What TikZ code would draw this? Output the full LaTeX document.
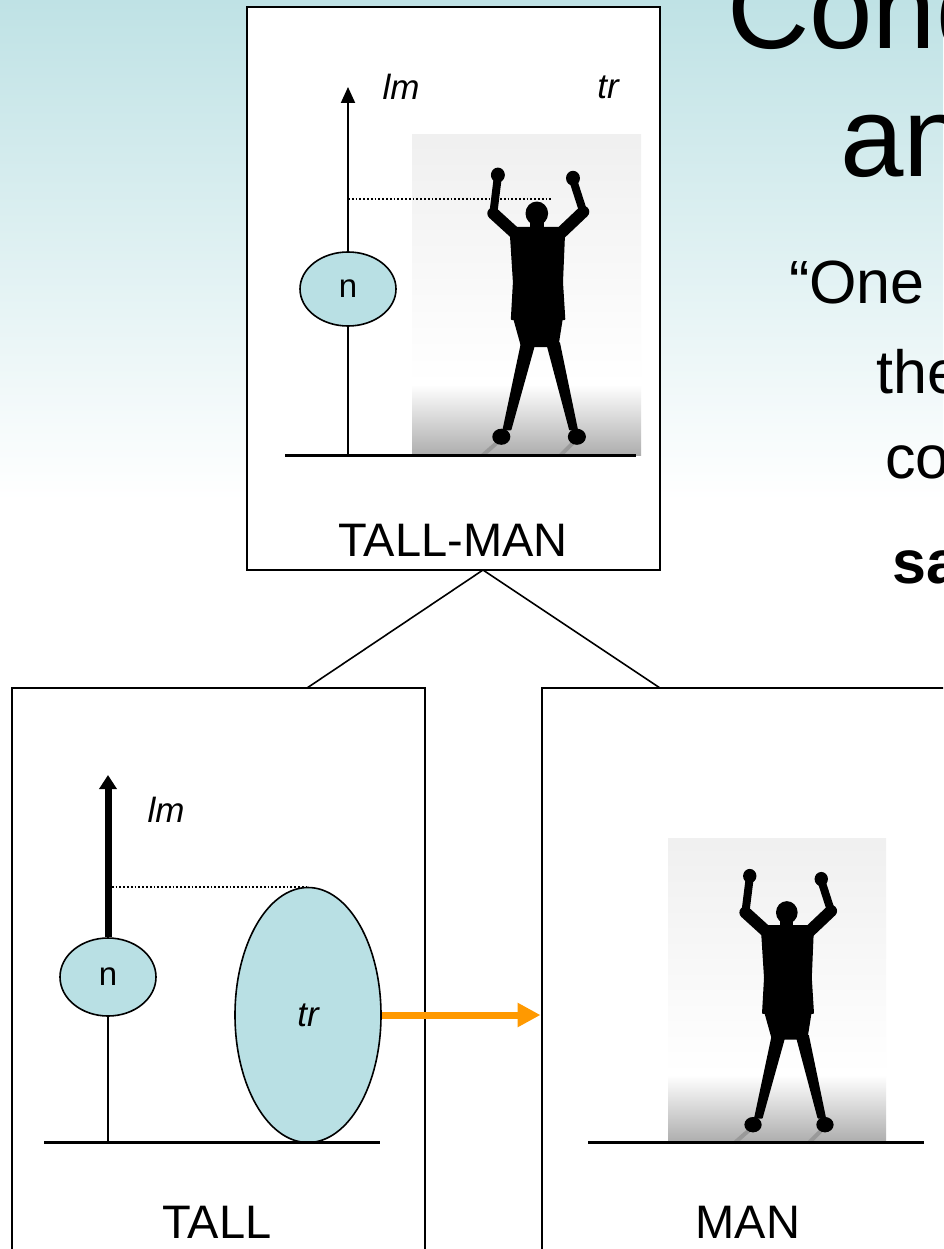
\documentclass[tikz,border=0pt]{standalone}
\usepackage{fontspec}
\setmainfont{Liberation Sans}
\usetikzlibrary{arrows.meta,shapes.geometric}

\definecolor{slideteal}{RGB}{191,226,229}
\definecolor{blobteal}{RGB}{185,224,228}
\definecolor{moveorange}{RGB}{255,153,0}

\tikzset{
  panel/.style={draw, line width=2pt, fill=white, inner sep=0pt,
    minimum width=413pt, minimum height=563pt},
  blob/.style={ellipse, draw, line width=1.6pt, fill=blobteal, inner sep=0pt,
    font=\fontsize{33}{33}\selectfont},
  paneltext/.style={inner sep=0pt, font=\fontsize{47}{47}\selectfont},
  roletext/.style={inner sep=0pt, font=\fontsize{35}{35}\selectfont\itshape},
  titletext/.style={inner sep=0pt, anchor=base west, font=\fontsize{114}{114}\selectfont},
  quotetext/.style={inner sep=0pt, anchor=base west, font=\fontsize{61}{61}\selectfont},
  link/.style={line width=1.6pt},
  ground/.style={line width=3pt},
  guide/.style={dotted, line width=1.8pt},
  lmaxis/.style={line width=2pt, -{Triangle[length=16pt,width=14pt]}},
  movearrow/.style={draw=moveorange, line width=7pt,
    -{Triangle[length=23pt,width=23pt]}},
  limb/.style={black, line cap=round},
  pics/manphoto/.style={code={
    % photo backdrop and floor
    \shade[top color=black!6, bottom color=white] (0,0) rectangle (1,0.78);%
    \shade[top color=white, bottom color=black!32] (0,0.78) rectangle (1,1);%
    % soft shadows of the feet
    \draw[black!40, line width=4pt, line cap=round] (0.39,0.95) -- (0.31,1);%
    \draw[black!40, line width=4pt, line cap=round] (0.72,0.95) -- (0.65,1);%
    % blurred figure with raised arms
    \begin{scope}[fill=black, draw=black, line width=2pt, line join=round]
      \filldraw (0.545,0.245) ellipse [x radius=0.045, y radius=0.034];%
      \filldraw (0.52,0.26) rectangle (0.57,0.30);%
      \filldraw (0.43,0.29) -- (0.665,0.29) -- (0.655,0.46) -- (0.665,0.575)
        -- (0.436,0.575) -- (0.445,0.46) -- cycle;%
      \filldraw (0.445,0.57) -- (0.655,0.57) -- (0.635,0.66) -- (0.48,0.66) -- cycle;%
      \filldraw (0.48,0.65) -- (0.535,0.65) -- (0.43,0.92) -- (0.40,0.92) -- cycle;%
      \filldraw (0.59,0.65) -- (0.642,0.65) -- (0.72,0.92) -- (0.69,0.92) -- cycle;%
      \filldraw (0.39,0.943) ellipse [x radius=0.035, y radius=0.022];%
      \filldraw (0.72,0.943) ellipse [x radius=0.035, y radius=0.022];%
      \draw[limb, line width=12pt] (0.47,0.32) -- (0.355,0.245);%
      \draw[limb, line width=8pt] (0.355,0.245) -- (0.375,0.13);%
      \draw[limb, line width=12pt] (0.63,0.32) -- (0.748,0.24);%
      \draw[limb, line width=8pt] (0.748,0.24) -- (0.703,0.14);%
      \fill (0.47,0.32) -- (0.355,0.245) -- (0.43,0.29) -- cycle;%
      \fill (0.63,0.32) -- (0.748,0.24) -- (0.665,0.29) -- cycle;%
      \filldraw (0.375,0.125) ellipse [x radius=0.026, y radius=0.02];%
      \filldraw (0.703,0.135) ellipse [x radius=0.026, y radius=0.02];%
    \end{scope}
  }}
}

\begin{document}
\begin{tikzpicture}[x=1pt, y=-1pt]
            \useasboundingbox (0,0) rectangle (943,1249);%
            \clip (0,0) rectangle (943,1249);%

            % Slide background
            \shade [top color=slideteal, bottom color=white] (0,0) rectangle (943,500);%

            % Title and quote, cut off by the slide edge
            \node [titletext] (titleA) at (727,49) {Cond};%
            \node [titletext] (titleB) at (840,177) {an};%
            \node [quotetext] (quoteA) at (789,303) {“One};%
            \node [quotetext] (quoteB) at (876,393) {the};%
            \node [quotetext] (quoteC) at (885,478) {co};%
            \node [quotetext] (quoteD) at (892,583) {\bfseries sa};%

            % Panels
            \node [panel] (tallman) at (453.5,288.5) {};%
            \node [panel] (tall) at (218,969.5) {};%
            \node [panel] (man) at (748,969.5) {};%

            % Linking TALL-MAN to its parts
            \coordinate (apex) at (483,570);%
            \coordinate (tallhook) at (307,688);%
            \coordinate (manhook) at (660,688);%
            \draw [link] (apex) -- (tallhook);%
            \draw [link] (apex) -- (manhook);%

            % Panel TALL-MAN
            \pic [xscale=229, yscale=320] at (412,135) {manphoto};%
            \coordinate (lmfootA) at (348,455);%
            \coordinate (lmtipA) at (348,87);%
            \coordinate (headA) at (553,199);%
            \draw [lmaxis] (lmfootA) -- (lmtipA);%
            \draw [guide] (lmtipA |- headA) -- (headA);%
            \node [blob, minimum width=96pt, minimum height=74pt] (nA) at (348,289) {n};%
            \node [roletext] (lmA) at (401,87) {lm};%
            \node [roletext] (trA) at (608,87) {tr};%
            \coordinate (groundAl) at (285,455);%
            \coordinate (groundAr) at (636,455);%
            \draw [ground] (groundAl) -- (groundAr);%
            \node [paneltext] (tallmanname) at (453,540) {TALL-MAN};%

            % Panel TALL
            \node [blob, minimum width=96pt, minimum height=78pt] (nB) at (108,977) {n};%
            \node [blob, minimum width=146pt, minimum height=255pt,
              font=\fontsize{35}{35}\selectfont\itshape] (trB) at (308,1015) {tr};%
            \coordinate (lmtipB) at (108,775);%
            \coordinate (groundBl) at (44,1142);%
            \coordinate (groundBr) at (380,1142);%
            \draw [guide] (nB.north |- trB.north) -- (trB.north);%
            \draw [line width=7pt, -{Triangle[length=14pt,width=17pt]}] (nB.north) -- (lmtipB);%
            \draw [line width=2pt] (nB.south) -- (nB.south |- groundBl);%
            \draw [ground] (groundBl) -- (groundBr);%
            \node [roletext] (lmB) at (166,810) {lm};%
            \node [paneltext] (tallname) at (217,1222) {TALL};%

            % Panel MAN
            \pic [xscale=218, yscale=304] at (668,838) {manphoto};%
            \coordinate (groundCl) at (588,1142);%
            \coordinate (groundCr) at (924,1142);%
            \draw [ground] (groundCl) -- (groundCr);%
            \node [paneltext] (manname) at (748,1222) {MAN};%

            % TALL applied to MAN
            \draw [movearrow] (trB.east) -- (man.west |- trB.east);%
\end{tikzpicture}
\end{document}
